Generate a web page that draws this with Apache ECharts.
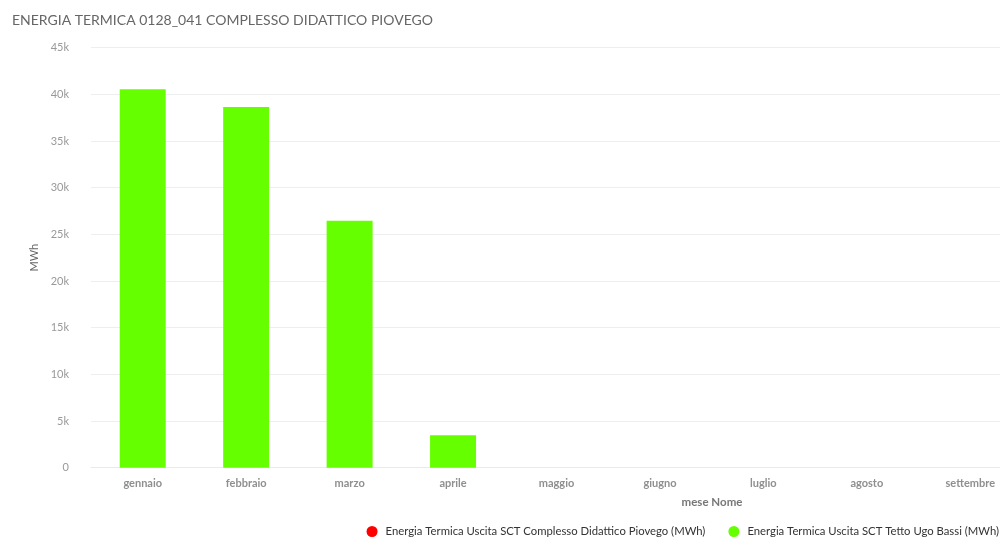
<!DOCTYPE html>
<html>
<head>
<meta charset="utf-8">
<script src="https://cdn.jsdelivr.net/npm/echarts@6/dist/echarts.min.js"></script>
<style>
html,body{margin:0;padding:0;background:#fff;overflow:hidden;}
#chart{width:1000px;height:538px;}
</style>
</head>
<body>
<div id="chart"></div>
<script>
var titleText = 'ENERGIA TERMICA 0128_041 COMPLESSO DIDATTICO PIOVEGO';
var months = ['gennaio','febbraio','marzo','aprile','maggio','giugno','luglio','agosto','settembre'];
var seriesNames = ['Energia Termica Uscita SCT Complesso Didattico Piovego (MWh)','Energia Termica Uscita SCT Tetto Ugo Bassi (MWh)'];
var piovegoValues = [0,0,0,0,0,0,0,0,0];
var ugoBassiValues = [40550,38650,26450,3480,0,0,0,0,0];
var yAxisName = 'MWh';
var xAxisName = 'mese Nome';

var chart = echarts.init(document.getElementById('chart'), null, {renderer:'canvas'});
chart.setOption({
  animation:false,
  textStyle:{fontFamily:'Lato'},
  title:{text:titleText,left:7,top:8,textStyle:{fontFamily:'Lato',fontSize:14,fontWeight:'normal',color:'#666'}},
  legend:{
    data:seriesNames,right:-4,top:521,icon:'circle',itemWidth:11,itemHeight:11,itemGap:23,
    textStyle:{fontFamily:'Lato',fontSize:11.3,color:'#333',padding:[0,0,0,3]}
  },
  grid:{left:91,width:931,top:47.7,bottom:70.3,containLabel:false,outerBoundsMode:'none'},
  xAxis:{
    type:'category',data:months,
    name:xAxisName,nameLocation:'middle',nameGap:29,
    nameTextStyle:{fontFamily:'Lato',fontSize:11.5,fontWeight:'bold',color:'#777',padding:[0,0,0,311]},
    axisLine:{lineStyle:{color:'#e6ebef'}},
    axisTick:{alignWithLabel:true,length:5,lineStyle:{color:'#e6ebef'}},
    axisLabel:{fontFamily:'Lato',fontSize:11,fontWeight:'bold',color:'#8f8f8f',margin:10}
  },
  yAxis:{
    type:'value',min:0,max:45000,interval:5000,
    name:yAxisName,nameLocation:'middle',nameGap:41,nameRotate:90,
    nameTextStyle:{fontFamily:'Lato',fontSize:11,color:'#666'},
    axisLabel:{fontFamily:'Lato',fontSize:11,color:'#999',margin:22,
      formatter:function(v){return v===0?'0':(v/1000)+'k';}},
    splitLine:{lineStyle:{color:'#eeeeee'}},
    axisLine:{show:false},axisTick:{show:false}
  },
  series:[
    {name:seriesNames[0],type:'bar',stack:'total',data:piovegoValues,itemStyle:{color:'#ff0000'},barWidth:46},
    {name:seriesNames[1],type:'bar',stack:'total',data:ugoBassiValues,itemStyle:{color:'#66ff00'},barWidth:46}
  ]
});
</script>
</body>
</html>
